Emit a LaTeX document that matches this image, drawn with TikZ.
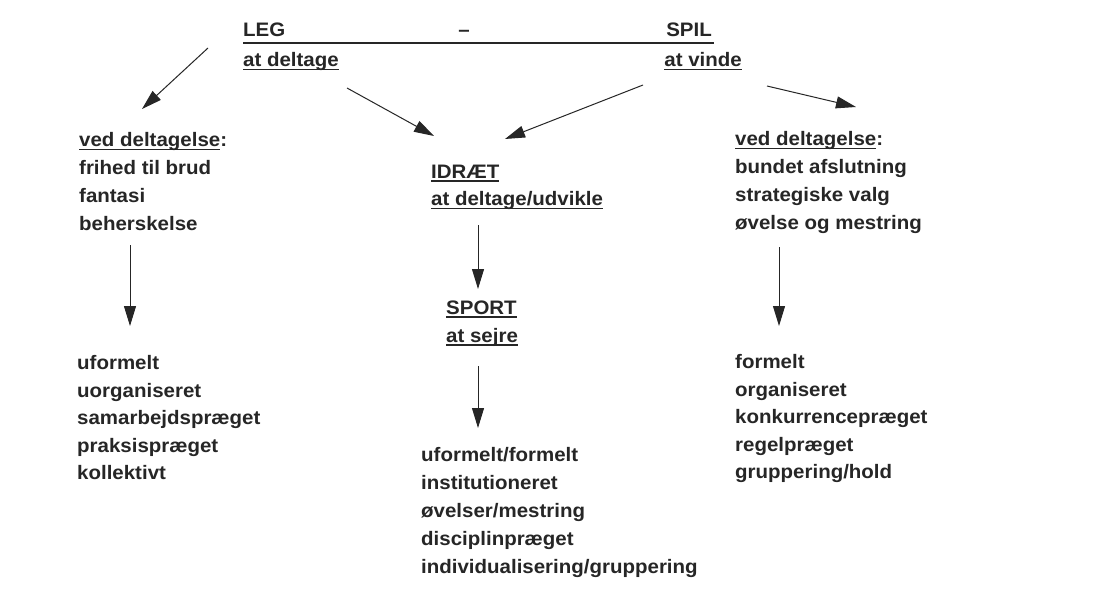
\documentclass[tikz,border=0pt]{standalone}
\usepackage{fontspec}
\setmainfont[FakeStretch=1.05]{Liberation Sans}
\usetikzlibrary{arrows.meta,calc}
\definecolor{ink}{HTML}{262626}
\newcommand\ulx[1]{\setbox0\hbox{#1}\rlap{\rule[-3.6pt]{\wd0}{1.3pt}}\box0}
\begin{document}
\begin{tikzpicture}[x=1pt,y=-1pt,
  txt/.style={anchor=base west, inner sep=0, font=\fontsize{19.5}{24}\selectfont\bfseries, text=ink},
  arr/.style={-{Triangle[length=20pt,width=12pt]}, line width=1pt, draw=ink}]
\useasboundingbox[fill=white] (0,0) rectangle (1107,608);
% header
\node[txt] (leg) at (243,36) {LEG};
\node[txt, anchor=base] (dash) at (464,36) {–};
\node[txt, anchor=base east] (spil) at (712,36) {SPIL};
\draw[ink, line width=1.1pt] ($(leg.base west)+(0,7)$) coordinate (hl) -- ($(spil.base east)+(2,7)$) coordinate (hr);
\node[txt] (atdel) at (243,66.5) {\ulx{at deltage}};
\node[txt, anchor=base east] (atvin) at (742,66.5) {\ulx{at vinde}};
% left block
\node[txt] (l1) at (79,146.5) {\ulx{ved deltagelse}:};
\node[txt] (l2) at (79,174.5) {frihed til brud};
\node[txt] (l3) at (79,202.5) {fantasi};
\node[txt] (l4) at (79,230.5) {beherskelse};
% center
\node[txt] (c1) at (431,178) {\ulx{IDRÆT}};
\node[txt] (c2) at (431,205.5) {\ulx{at deltage/udvikle}};
\node[txt] (s1) at (446,314) {\ulx{SPORT}};
\node[txt] (s2) at (446,342) {\ulx{at sejre}};
% right block
\node[txt] (r1) at (735,145.5) {\ulx{ved deltagelse}:};
\node[txt] (r2) at (735,173.5) {bundet afslutning};
\node[txt] (r3) at (735,201.5) {strategiske valg};
\node[txt] (r4) at (735,229.5) {øvelse og mestring};
% bottom lists
\node[txt] (lb1) at (77,369.5) {uformelt};
\node[txt] (lb2) at (77,397) {uorganiseret};
\node[txt] (lb3) at (77,424.5) {samarbejdspræget};
\node[txt] (lb4) at (77,452) {praksispræget};
\node[txt] (lb5) at (77,479.5) {kollektivt};
\node[txt] (cb1) at (421,461) {uformelt/formelt};
\node[txt] (cb2) at (421,489) {institutioneret};
\node[txt] (cb3) at (421,517) {øvelser/mestring};
\node[txt] (cb4) at (421,545) {disciplinpræget};
\node[txt] (cb5) at (421,573) {individualisering/gruppering};
\node[txt] (rb1) at (735,368.5) {formelt};
\node[txt] (rb2) at (735,396) {organiseret};
\node[txt] (rb3) at (735,423.5) {konkurrencepræget};
\node[txt] (rb4) at (735,451) {regelpræget};
\node[txt] (rb5) at (735,478.5) {gruppering/hold};
% arrow end points
\coordinate (a1s) at (208,48);  \coordinate (a1e) at (142,109);
\coordinate (a2s) at (347,88);  \coordinate (a2e) at (434,136);
\coordinate (a3s) at (643,85);  \coordinate (a3e) at (505,139);
\coordinate (a4s) at (767,86);  \coordinate (a4e) at (856,107);
\coordinate (a5s) at (130,245); \coordinate (a5e) at (130,326);
\coordinate (a6s) at (478,225); \coordinate (a6e) at (478,289);
\coordinate (a7s) at (779,247); \coordinate (a7e) at (779,326);
\coordinate (a8s) at (478,366); \coordinate (a8e) at (478,428);
\draw[arr] (a1s) -- (a1e);
\draw[arr] (a2s) -- (a2e);
\draw[arr] (a3s) -- (a3e);
\draw[arr] (a4s) -- (a4e);
\draw[arr] (a5s) -- (a5e);
\draw[arr] (a6s) -- (a6e);
\draw[arr] (a7s) -- (a7e);
\draw[arr] (a8s) -- (a8e);
\end{tikzpicture}
\end{document}
